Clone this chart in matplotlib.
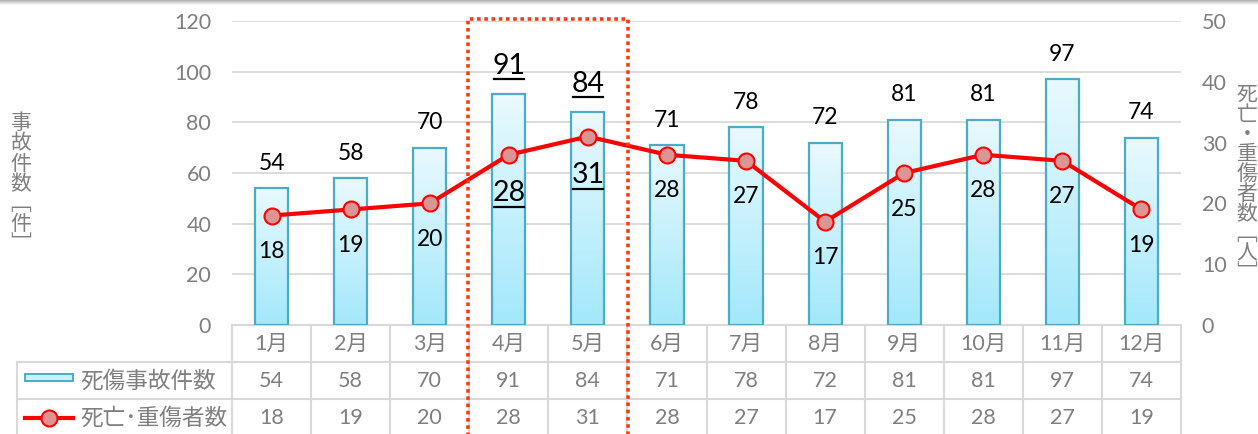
import numpy as np
import matplotlib.pyplot as plt
import matplotlib.transforms as mtransforms
from matplotlib.patches import Rectangle
from matplotlib.lines import Line2D
from matplotlib.colors import LinearSegmentedColormap

# data
months = ['1月', '2月', '3月', '4月', '5月', '6月', '7月', '8月', '9月', '10月', '11月', '12月']
accidents = [54, 58, 70, 91, 84, 71, 78, 72, 81, 81, 97, 74]
casualties = [18, 19, 20, 28, 31, 28, 27, 17, 25, 28, 27, 19]
highlight = [3, 4]  # 4月, 5月

bar_name = '死傷事故件数'
line_name = '死亡･重傷者数'
left_label = '事故件数﹇件﹈'
right_label = '死亡・重傷者数﹇人﹈'

W, H = 1258, 434
plt.rcParams['font.family'] = ['Lato', 'Noto Sans CJK JP', 'DejaVu Sans']

GRAY = '#7f7f7f'
GRID = '#d9d9d9'
EDGE = '#4bacc6'
RED = '#ff0000'

fig = plt.figure(figsize=(W / 100, H / 100), dpi=100)

# thin shadow at the top edge
top = fig.add_axes([0, 1 - 5 / H, 1, 5 / H])
top.imshow(np.linspace(0, 1, 20).reshape(-1, 1), aspect='auto',
           cmap=LinearSegmentedColormap.from_list('s', ['#b0b0b0', '#ffffff']))
top.axis('off')

ax_l, ax_r, ax_t, ax_b = 232, 1181, 21, 325
ax = fig.add_axes([ax_l / W, 1 - ax_b / H, (ax_r - ax_l) / W, (ax_b - ax_t) / H])
ax2 = ax.twinx()
unit_px = (ax_r - ax_l) / len(months)

x = np.arange(len(months))
bw = 0.42

# bars with vertical gradient
cmap = LinearSegmentedColormap.from_list('bar', ['#a3e8fb', '#e9f9fe'])
grad = np.linspace(0, 1, 100).reshape(-1, 1)
for i, v in zip(x, accidents):
    ax.imshow(grad, extent=[i - bw / 2, i + bw / 2, 0, v], origin='lower',
              aspect='auto', cmap=cmap, zorder=2)
ax.bar(x, accidents, width=bw, facecolor='none', edgecolor=EDGE, lw=1.6, zorder=3)

ax.set_xlim(-0.5, len(months) - 0.5)
ax.set_ylim(0, 120)
ax.set_yticks(range(0, 121, 20))
ax.set_xticks([])
ax.yaxis.grid(True, color=GRID, lw=1.3)
ax.set_axisbelow(True)
for s in ax.spines.values():
    s.set_visible(False)
ax.tick_params(axis='y', length=0, labelsize=15.5, labelcolor=GRAY, pad=15)

ax2.set_ylim(0, 50)
ax2.set_yticks(range(0, 51, 10))
for s in ax2.spines.values():
    s.set_visible(False)
ax2.tick_params(axis='y', length=0, labelsize=15.5, labelcolor=GRAY, pad=15)

ax2.plot(x, casualties, color=RED, lw=3, marker='o', ms=11.5,
         mfc='#d99694', mec=RED, mew=1.5, zorder=5, clip_on=False)

px = 0.72  # points per pixel


def underline(axis, i, v, dy):
    tr = mtransforms.offset_copy(axis.transData, fig=fig, y=dy, units='dots')
    half = 15 / unit_px
    axis.add_line(Line2D([i - half, i + half], [v, v], color='black', lw=1.6,
                         transform=tr, clip_on=False, zorder=6))


for i, v in zip(x, accidents):
    if i in highlight:
        ax.annotate(str(v), (i, v), xytext=(0, 28 * px), textcoords='offset points',
                    ha='center', va='center', fontsize=20.5)
        underline(ax, i, v, 15)
    else:
        ax.annotate(str(v), (i, v), xytext=(0, 25 * px), textcoords='offset points',
                    ha='center', va='center', fontsize=16.5)

for i, v in zip(x, casualties):
    if i in highlight:
        ax2.annotate(str(v), (i, v), xytext=(0, -38 * px), textcoords='offset points',
                     ha='center', va='center', fontsize=20.5, zorder=6)
        underline(ax2, i, v, -52)
    else:
        ax2.annotate(str(v), (i, v), xytext=(0, -36 * px), textcoords='offset points',
                     ha='center', va='center', fontsize=16.5, zorder=6)

# data table below the axes
tt = mtransforms.blended_transform_factory(ax.transData, fig.transFigure)


def fy(ypx):
    return 1 - ypx / H


x0 = -0.5 - (ax_l - 17) / unit_px
x_end = len(months) - 0.5
rows = [325, 362, 399]
ax.add_line(Line2D([-0.5, x_end], [fy(325), fy(325)], color=GRID, lw=1.5, transform=tt, clip_on=False))
for yy in rows[1:]:
    ax.add_line(Line2D([x0, x_end], [fy(yy), fy(yy)], color=GRID, lw=1.5, transform=tt, clip_on=False))
for k in range(len(months) + 1):
    ax.add_line(Line2D([k - 0.5, k - 0.5], [fy(325), fy(H + 5)], color=GRID, lw=1.5,
                       transform=tt, clip_on=False))
ax.add_line(Line2D([x0, x0], [fy(362), fy(H + 5)], color=GRID, lw=1.5, transform=tt, clip_on=False))

for i in x:
    ax.text(i, fy(344), months[i], transform=tt, ha='center', va='center', fontsize=15.5, color=GRAY)
    ax.text(i, fy(381), str(accidents[i]), transform=tt, ha='center', va='center', fontsize=15.5, color=GRAY)
    ax.text(i, fy(418), str(casualties[i]), transform=tt, ha='center', va='center', fontsize=15.5, color=GRAY)

# legend keys in the table's label column
k0 = -0.5 - (ax_l - 25) / unit_px
k1 = -0.5 - (ax_l - 73) / unit_px
ax.add_patch(Rectangle((k0, fy(381)), k1 - k0, 7 / H, transform=tt, clip_on=False,
                       facecolor='#c9f1fc', edgecolor=EDGE, lw=1.4))
ax.add_line(Line2D([k0, k1], [fy(418), fy(418)], color=RED, lw=3, transform=tt, clip_on=False))
ax.add_line(Line2D([(k0 + k1) / 2], [fy(418)], marker='o', ms=11.5, mfc='#d99694', mec=RED,
                   mew=1.5, transform=tt, clip_on=False))
lx = -0.5 - (ax_l - 80) / unit_px
ax.text(lx, fy(381), bar_name, transform=tt, ha='left', va='center', fontsize=16.3, color=GRAY)
ax.text(lx, fy(418), line_name, transform=tt, ha='left', va='center', fontsize=16.3, color=GRAY)

# vertical axis titles, one character per cell
for j, ch in enumerate(left_label):
    fig.text(21 / W, fy(123 + 20.3 * j), ch, ha='center', va='center', fontsize=15, color=GRAY)
for j, ch in enumerate(right_label):
    fig.text(1247 / W, fy(95 + 19.8 * j), ch, ha='center', va='center', fontsize=15, color=GRAY)

# dotted highlight box around 4月-5月
bt = mtransforms.blended_transform_factory(ax2.transData, ax2.transAxes)
ax2.add_patch(Rectangle((2.49, -1.0), 2.02, 2.007, transform=bt, clip_on=False,
                        fill=False, edgecolor='#ff3b14', lw=2.6, linestyle=(0, (1, 1)),
                        zorder=7))

fig.savefig('out.png', dpi=100)
